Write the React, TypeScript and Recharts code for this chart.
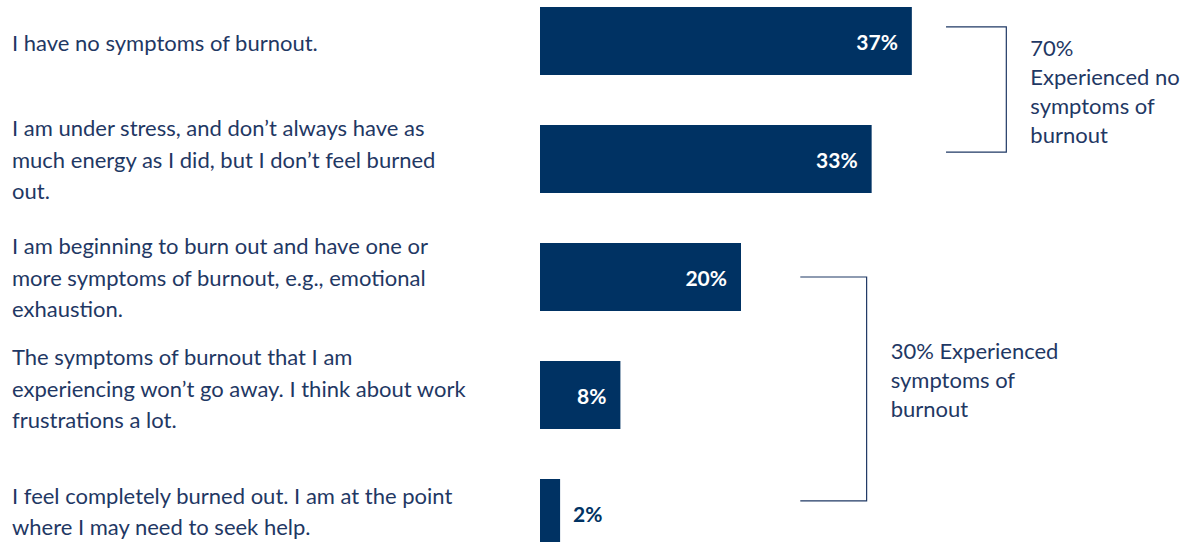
import { BarChart, Bar, XAxis, YAxis, LabelList } from 'recharts';

const statements = [
  ['I have no symptoms of burnout.'],
  ['I am under stress, and don\u2019t always have as', 'much energy as I did, but I don\u2019t feel burned', 'out.'],
  ['I am beginning to burn out and have one or', 'more symptoms of burnout, e.g., emotional', 'exhaustion.'],
  ['The symptoms of burnout that I am', 'experiencing won\u2019t go away. I think about work', 'frustrations a lot.'],
  ['I feel completely burned out. I am at the point', 'where I may need to seek help.'],
];
const shares = [37, 33, 20, 8, 2];

const noSymptomsText = ['70%', 'Experienced no', 'symptoms of', 'burnout'];
const symptomsText = ['30% Experienced', 'symptoms of', 'burnout'];

const data = statements.map((lines, i) => ({ id: String(i), share: shares[i] }));

const NAVY = '#003263';
const TEXT = '#1f3864';
const FONT = 'Lato, "Open Sans", sans-serif';
const LINE_H = 31.5;
// the text boxes in the source sit a little off the bar centres
const TICK_NUDGE = [1, 0, 0, -7, -2];

// layout of the chart, also used to place the brackets
const W = 1186;
const H = 590;
const TOP = -18;
const AXIS_W = 540;
const RIGHT = 43;
const X_MAX = 60;
const STEP = H / statements.length;
const xPx = (v: number) => AXIS_W + (v * (W - AXIS_W - RIGHT)) / X_MAX;
const yPx = (band: number) => TOP + band * STEP;

function StatementTick(props: any) {
  const { y, payload } = props;
  const idx = Number(payload.value);
  const lines = statements[idx];
  const start = y + TICK_NUDGE[idx] - ((lines.length - 1) * LINE_H) / 2;
  return (
    <g>
      {lines.map((l, i) => (
        <text key={i} x={12} y={start + i * LINE_H} dominantBaseline="central" fill={TEXT} fontSize={22} fontFamily={FONT}>
          {l}
        </text>
      ))}
    </g>
  );
}

function ShareLabel(props: any) {
  const { x, y, width, height, value } = props;
  const inside = value >= 5;
  return (
    <text
      x={inside ? x + width - 14 : x + width + 13}
      y={y + height / 2}
      dominantBaseline="central"
      textAnchor={inside ? 'end' : 'start'}
      fill={inside ? '#ffffff' : NAVY}
      fontSize={21}
      fontWeight={700}
      fontFamily={FONT}
    >
      {value}%
    </text>
  );
}

function Bracket({ x0, x1, y0, y1, lines, textY }: { x0: number; x1: number; y0: number; y1: number; lines: string[]; textY: number }) {
  return (
    <g>
      <path d={`M${x0},${y0}H${x1}V${y1}H${x0}`} fill="none" stroke={TEXT} strokeWidth={1.2} />
      {lines.map((l, i) => (
        <text key={i} x={x1 + 24} y={textY + i * 29} dominantBaseline="central" fill={TEXT} fontSize={22} fontFamily={FONT}>
          {l}
        </text>
      ))}
    </g>
  );
}

export default function App() {
  return (
    <div style={{ position: 'absolute', left: 0, top: 0, width: W, height: 542, overflow: 'hidden', background: '#fff' }}>
      <div style={{ marginTop: TOP }}>
        <BarChart width={W} height={H} data={data} layout="vertical" margin={{ top: 0, right: RIGHT, bottom: 0, left: 0 }} barCategoryGap={25}>
          <XAxis type="number" domain={[0, X_MAX]} hide />
          <YAxis type="category" dataKey="id" width={AXIS_W} axisLine={false} tickLine={false} tick={<StatementTick />} interval={0} />
          <Bar dataKey="share" fill={NAVY} isAnimationActive={false}>
            <LabelList dataKey="share" content={<ShareLabel />} />
          </Bar>
        </BarChart>
      </div>
      <svg width={W} height={542} style={{ position: 'absolute', left: 0, top: 0 }}>
        <Bracket x0={xPx(40.4)} x1={xPx(46.4)} y0={yPx(0.381)} y1={yPx(1.441)} lines={noSymptomsText} textY={47} />
        <Bracket x0={xPx(25.9)} x1={xPx(32.5)} y0={yPx(2.5)} y1={yPx(4.398)} lines={symptomsText} textY={350} />
      </svg>
    </div>
  );
}
